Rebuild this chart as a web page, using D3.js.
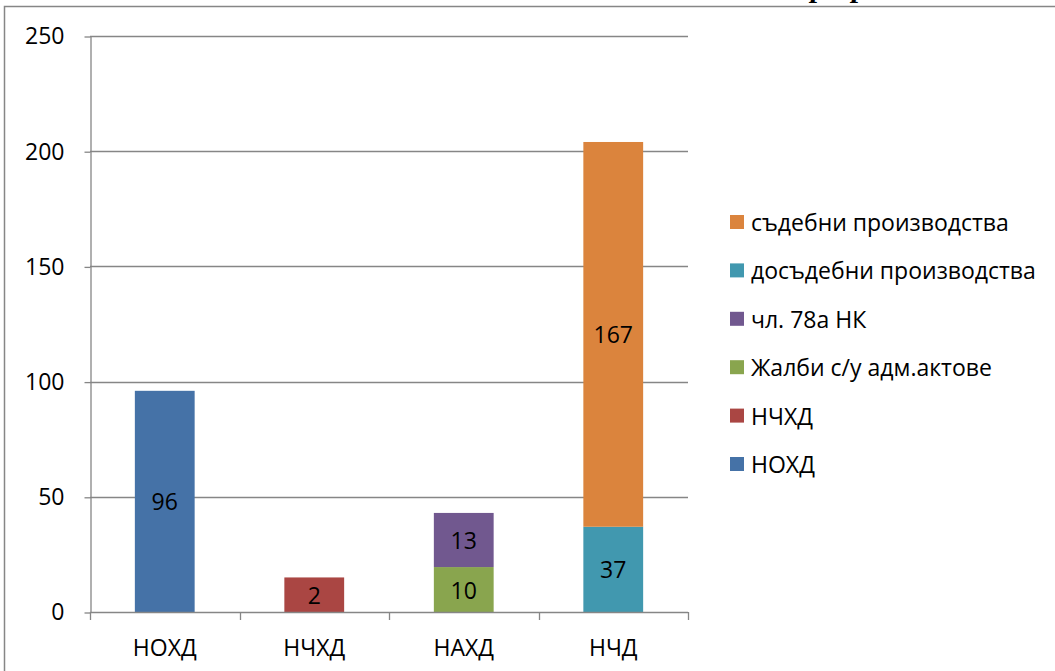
<!DOCTYPE html>
<html lang="bg">
<head>
<meta charset="UTF-8">
<script src="https://cdn.jsdelivr.net/npm/d3@7"></script>
<style>
    body { margin: 0; background: #fff; }
    svg text { font-family: "Open Sans", "Noto Sans", sans-serif; fill: #000; }
    .grid line { stroke: #868686; stroke-width: 1.3px; }
    .axis path, .axis line { stroke: #868686; stroke-width: 1.3px; }
</style>
</head>
<body>
<svg width="1055" height="671"></svg>
<script>
// chart data
const categories = ["НОХД", "НЧХД", "НАХД", "НЧД"];
const seriesNames = ["НОХД", "НЧХД", "Жалби с/у адм.актове", "чл. 78а НК", "досъдебни производства", "съдебни производства"];
const seriesColors = ["#4572A7", "#AA4643", "#89A54E", "#71588F", "#4198AF", "#DB843D"];
// bar heights as drawn
const noxdValues = [96, 0, 0, 0];
const nchxdValues = [0, 15, 0, 0];
const zhalbiValues = [0, 0, 19.5, 0];
const chl78aValues = [0, 0, 23.5, 0];
const dosadebniValues = [0, 0, 0, 37];
const sadebniValues = [0, 0, 0, 167];
// data labels as printed on the bars
const noxdLabels = ["96", "", "", ""];
const nchxdLabels = ["", "2", "", ""];
const zhalbiLabels = ["", "", "10", ""];
const chl78aLabels = ["", "", "13", ""];
const dosadebniLabels = ["", "", "", "37"];
const sadebniLabels = ["", "", "", "167"];
const yTicks = [0, 50, 100, 150, 200, 250];

const seriesValues = [noxdValues, nchxdValues, zhalbiValues, chl78aValues, dosadebniValues, sadebniValues];
const seriesLabels = [noxdLabels, nchxdLabels, zhalbiLabels, chl78aLabels, dosadebniLabels, sadebniLabels];

const svg = d3.select("svg");

// outer chart border (right and bottom fall outside the picture)
svg.append("rect")
    .attr("x", 4.5).attr("y", 6.5)
    .attr("width", 1200).attr("height", 800)
    .attr("fill", "none")
    .attr("stroke", "#868686")
    .attr("stroke-width", 1.5);

// clipped text from the page above the chart: only the descenders show
[["р", 811], ["р", 852]].forEach(([t, tx]) => {
    svg.append("text")
        .attr("x", tx).attr("y", -3)
        .style("font-family", "'Liberation Serif', serif")
        .style("font-style", "italic")
        .style("font-weight", "bold")
        .style("font-size", "30px")
        .text(t);
});

const plotLeft = 90, plotRight = 688, plotTop = 36, plotBottom = 612;

const x = d3.scaleBand().domain(categories).range([plotLeft, plotRight]).paddingInner(0.6).paddingOuter(0.3);
const xTickScale = d3.scaleLinear().domain([0, categories.length]).range([plotLeft, plotRight]);
const y = d3.scaleLinear().domain([0, 250]).range([plotBottom, plotTop]);

// gridlines
svg.append("g").attr("class", "grid")
    .selectAll("line")
    .data(yTicks.filter(d => d > 0))
    .enter().append("line")
    .attr("x1", plotLeft).attr("x2", plotRight)
    .attr("y1", d => Math.round(y(d)) + 0.5)
    .attr("y2", d => Math.round(y(d)) + 0.5);

// y axis
const yAxis = svg.append("g").attr("class", "axis")
    .attr("transform", `translate(${plotLeft + 0.5},0.5)`)
    .call(d3.axisLeft(y).tickValues(yTicks).tickSize(6).tickPadding(20).tickSizeOuter(0));
yAxis.attr("font-family", null).attr("font-size", null);
yAxis.selectAll("text").style("font-size", "23px");

// stacked bars
const rows = categories.map((c, i) => {
    const row = { category: c };
    seriesNames.forEach((s, j) => { row[s] = seriesValues[j][i]; });
    return row;
});
const stacked = d3.stack().keys(seriesNames)(rows);

stacked.forEach((layer, j) => {
    const g = svg.append("g");
    g.selectAll("rect")
        .data(layer.filter(d => d[1] - d[0] > 0))
        .enter().append("rect")
        .attr("x", d => x(d.data.category))
        .attr("width", x.bandwidth())
        .attr("y", d => y(d[1]))
        .attr("height", d => y(d[0]) - y(d[1]))
        .attr("fill", seriesColors[j]);

    g.selectAll("text")
        .data(layer.map((d, i) => ({ d, label: seriesLabels[j][i] })).filter(o => o.label !== ""))
        .enter().append("text")
        .attr("x", o => x(o.d.data.category) + x.bandwidth() / 2)
        .attr("y", o => (y(o.d[0]) + y(o.d[1])) / 2)
        .attr("text-anchor", "middle")
        .attr("dominant-baseline", "central")
        .style("font-size", "23px")
        .text(o => o.label);
});

// x axis
const xAxisG = svg.append("g").attr("class", "axis");
xAxisG.append("line")
    .attr("x1", plotLeft).attr("x2", plotRight)
    .attr("y1", plotBottom + 0.5).attr("y2", plotBottom + 0.5);
xAxisG.selectAll(".tick")
    .data(d3.range(categories.length + 1))
    .enter().append("line")
    .attr("x1", d => Math.round(xTickScale(d)) + 0.5)
    .attr("x2", d => Math.round(xTickScale(d)) + 0.5)
    .attr("y1", plotBottom).attr("y2", plotBottom + 8);
xAxisG.selectAll("text")
    .data(categories)
    .enter().append("text")
    .attr("x", d => x(d) + x.bandwidth() / 2)
    .attr("y", 647)
    .attr("text-anchor", "middle")
    .attr("dominant-baseline", "central")
    .style("font-size", "23px")
    .text(d => d);

// legend, top entry is the last series
const legend = svg.append("g");
const legendItems = seriesNames.map((s, j) => ({ name: s, color: seriesColors[j] })).reverse();
const legendRow = d3.scalePoint().domain(legendItems.map(d => d.name)).range([222, 464]);

legendItems.forEach(item => {
    const cy = legendRow(item.name);
    legend.append("rect")
        .attr("x", 730).attr("y", cy - 7)
        .attr("width", 14).attr("height", 14)
        .attr("fill", item.color);
    legend.append("text")
        .attr("x", 751).attr("y", cy)
        .attr("dominant-baseline", "central")
        .style("font-size", "23px")
        .text(item.name);
});
</script>
</body>
</html>
